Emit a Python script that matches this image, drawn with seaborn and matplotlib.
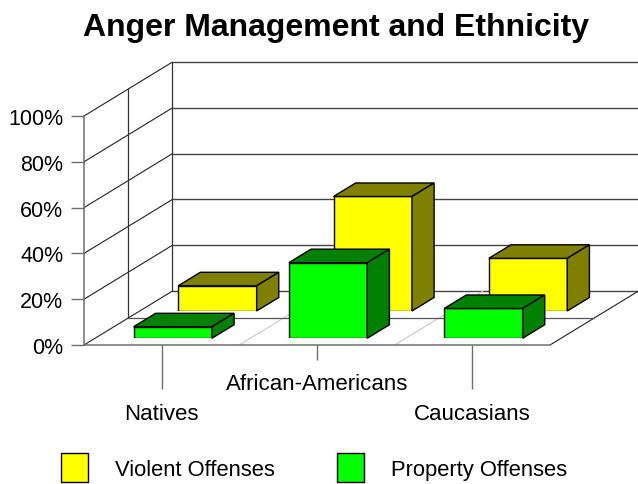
import matplotlib
matplotlib.use("Agg")
import matplotlib.pyplot as plt
import seaborn as sns
from matplotlib.patches import Patch, Polygon

categories = ["Natives", "African-Americans", "Caucasians"]
violent_values = [11, 50, 23]
property_values = [5, 33, 13]
pct_ticks = [0, 20, 40, 60, 80, 100]
pct_labels = ["0%", "20%", "40%", "60%", "80%", "100%"]

W, H = 638, 485
FLOOR_LEFT, FLOOR_W, FLOOR_Y, WALL_H = 84, 466, 346, 229
DEPTH_X, DEPTH_Y = 88.5, 54  # full depth of the box, in px
PX_X = FLOOR_W / 3  # px per category
PX_Y = WALL_H / 100  # px per percent

sns.set_theme(style="white")
plt.rcParams["font.family"] = ["Liberation Sans", "DejaVu Sans"]
LINE = 1.0
GREY = "#6e6e6e"


def make_axes(fig, depth):
    # one axes per row of bars, pushed back along the depth direction
    left = FLOOR_LEFT + DEPTH_X * depth
    bottom = H - FLOOR_Y + DEPTH_Y * depth
    ax = fig.add_axes([left / W, bottom / H, FLOOR_W / W, WALL_H / H])
    ax.set_xlim(-0.5, 2.5)
    ax.set_ylim(0, 100)
    return ax


def shift(depth):
    return DEPTH_X * depth / PX_X, DEPTH_Y * depth / PX_Y


def depth_line(ax, x, y, d0, d1, **kw):
    sx0, sy0 = shift(d0)
    sx1, sy1 = shift(d1)
    ax.plot([x + sx0, x + sx1], [y + sy0, y + sy1], clip_on=False, solid_capstyle="butt", **kw)


def draw_row(fig, depth, values, face, shade, zorder):
    ax = make_axes(fig, depth)
    ax.set_zorder(zorder)
    ax.patch.set_visible(False)
    sns.barplot(x=categories, y=values, color=face, saturation=1, width=0.505,
                edgecolor="black", linewidth=LINE, ax=ax)
    ax.set_xlim(-0.5, 2.5)
    ax.set_ylim(0, 100)
    dx, dy = shift(0.25)
    for bar in ax.patches:
        x0, x1 = bar.get_x(), bar.get_x() + bar.get_width()
        top = bar.get_height()
        ax.add_patch(Polygon([(x0, top), (x1, top), (x1 + dx, top + dy), (x0 + dx, top + dy)],
                             closed=True, fc=shade, ec="black", lw=LINE, clip_on=False))
        ax.add_patch(Polygon([(x1, 0), (x1 + dx, dy), (x1 + dx, top + dy), (x1, top)],
                             closed=True, fc=shade, ec="black", lw=LINE, clip_on=False))
    ax.axis("off")
    return ax


fig = plt.figure(figsize=(W / 100, H / 100), dpi=100, facecolor="white")

base = make_axes(fig, 0)
base.set_zorder(0)
base.patch.set_visible(False)
for side in ["top", "right"]:
    base.spines[side].set_visible(False)
for side in ["left", "bottom"]:
    base.spines[side].set_color(GREY)
    base.spines[side].set_linewidth(1.1)

base.set_yticks(pct_ticks)
base.set_yticklabels(pct_labels, fontsize=15.5, color="black")
base.set_xticks(range(len(categories)))
base.set_xticklabels(categories, fontsize=16, color="black")
base.tick_params(axis="y", left=True, length=9.4, width=1, color=GREY, pad=5.5)
base.tick_params(axis="x", bottom=True, length=10.5, width=1, color=GREY)

# staggered category labels, y is in axes fraction here
for tick, length, label_y in zip(base.xaxis.get_major_ticks(), [31.5, 10.5, 31.5], [-0.168, -0.036, -0.168]):
    tick.tick1line.set_markersize(length)
    tick.label1.set_y(label_y)

# box lines: walls, floor and the dividers on it
for pct in pct_ticks:
    depth_line(base, -0.5, pct, 0, 1, color="#222222", lw=0.8)
    sx, sy = shift(1)
    base.plot([-0.5 + sx, 2.5 + sx], [pct + sy, pct + sy], color="#444444", lw=1.0, clip_on=False)
depth_line(base, 2.5, 0, 0, 1, color="#222222", lw=0.8)
for x in [0.5, 1.5]:
    depth_line(base, x, 0, 0, 1, color="#c8c8c8", lw=0.8)
for depth in [0.5, 1]:
    sx, sy = shift(depth)
    base.plot([-0.5 + sx, -0.5 + sx], [sy, 100 + sy], color="#333333", lw=0.9, clip_on=False)
sx, sy = shift(0.5)
base.plot([-0.5 + sx, 2.5 + sx], [sy, sy], color="#555555", lw=0.9, clip_on=False)

draw_row(fig, 0.63, violent_values, "#ffff00", "#808000", 1)
draw_row(fig, 0.125, property_values, "#00ff00", "#008000", 2)

fig.text(336.5 / W, 1 - 28 / H, "Anger Management and Ethnicity", ha="center", va="center",
         fontsize=23.05, fontweight="bold", color="black")

handles = [Patch(fc="#ffff00", ec="black", lw=LINE, label="Violent Offenses"),
           Patch(fc="#00ff00", ec="black", lw=LINE, label="Property Offenses")]
fig.legend(handles=handles, loc="lower left", bbox_to_anchor=(61 / W, 1 - 483 / H), ncol=2,
           frameon=False, fontsize=15.8, labelcolor="black", borderpad=0, borderaxespad=0,
           handlelength=1.23, handleheight=1.65, handletextpad=1.23, columnspacing=2.82)

fig.savefig("out.png", dpi=100)
